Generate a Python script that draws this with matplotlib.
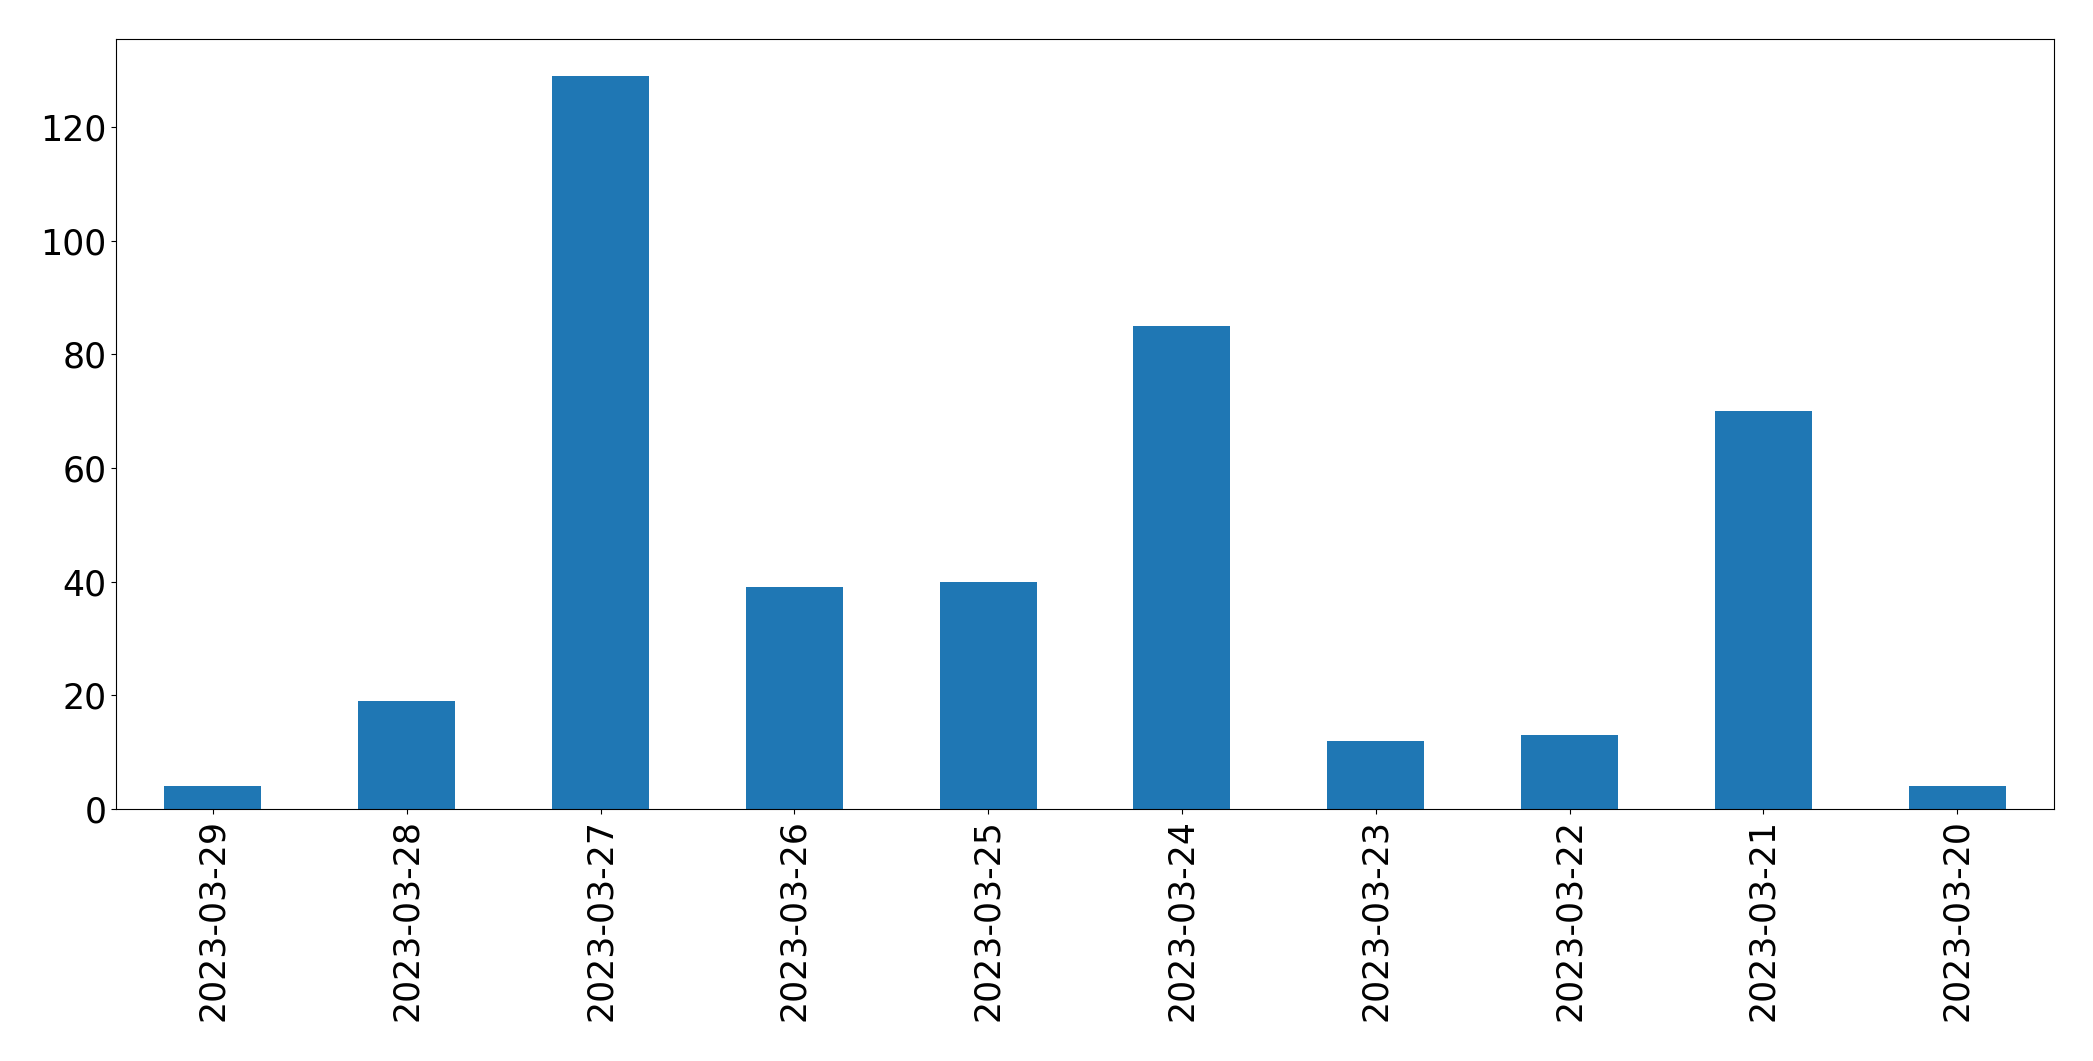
import matplotlib
matplotlib.use("Agg")
import matplotlib.pyplot as plt
import pandas as pd

dates = ["2023-03-29", "2023-03-28", "2023-03-27", "2023-03-26", "2023-03-25",
         "2023-03-24", "2023-03-23", "2023-03-22", "2023-03-21", "2023-03-20"]
counts = [4, 19, 129, 39, 40, 85, 12, 13, 70, 4]

fig = plt.figure(figsize=(20.93, 10.61), dpi=100)
ax = fig.add_axes([116/2093, 1 - 809/1061, (2054-116)/2093, (809-39)/1061])
s = pd.Series(counts, index=dates)
s.plot(kind="bar", ax=ax, color="#1f77b4", width=0.5)
ax.tick_params(axis="both", labelsize=25)
ax.set_ylim(0, 135.5)
fig.savefig("out.png", dpi=100)
